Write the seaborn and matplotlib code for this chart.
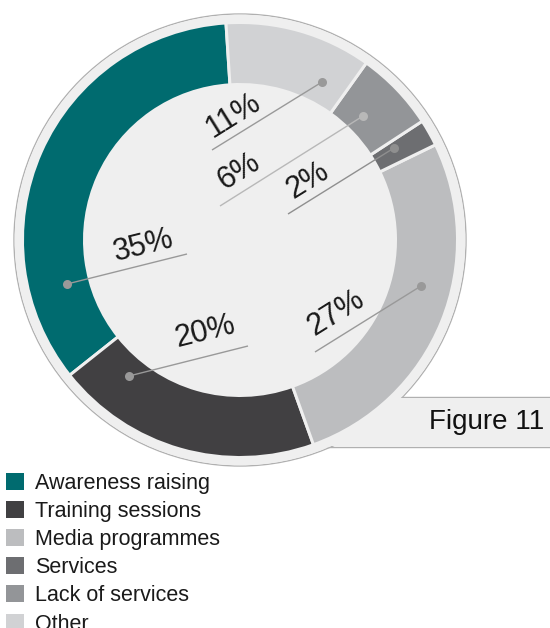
import matplotlib
matplotlib.use("Agg")
import matplotlib.pyplot as plt
from matplotlib.patches import Circle, Rectangle, Patch
import seaborn as sns

# Share of activities (percent)
categories = ["Awareness raising", "Training sessions", "Media programmes",
              "Services", "Lack of services", "Other"]
values = [35, 20, 27, 2, 6, 11]
value_labels = ["35%", "20%", "27%", "2%", "6%", "11%"]
colors = ["#006b6f", "#414042", "#bcbdbf", "#6d6e71", "#939598", "#d1d2d4"]
figure_title = "Figure 11"

sns.set_theme(style="white")
plt.rcParams["font.family"] = ["Liberation Sans", "DejaVu Sans"]

W, H = 550, 628
fig = plt.figure(figsize=(W / 100, H / 100), dpi=100)
fig.patch.set_facecolor("white")
ax = fig.add_axes([0, 0, 1, 1])

# layout in pixel units (y grows downward)
cx, cy = 240, 240
bg_r = 226
ring_outer, ring_width, gap_px = 216, 59, 3.0
bg_color = "#efefef"
outline = "#b0b0b0"

# background disc joined to the caption tab, outlined as one shape
ax.add_patch(Circle((cx, cy), bg_r, facecolor="none", edgecolor=outline, lw=1.0, zorder=1))
ax.add_patch(Rectangle((300, 397), 270, 50, facecolor="none", edgecolor=outline, lw=1.0, zorder=1))
ax.add_patch(Circle((cx, cy), bg_r - 0.6, facecolor=bg_color, edgecolor="none", zorder=1.5))
ax.add_patch(Rectangle((300, 397.6), 270, 48.8, facecolor=bg_color, edgecolor="none", zorder=1.5))

pal = sns.color_palette(colors)
wedges, _ = ax.pie(
    values, colors=pal, startangle=-93.7, counterclock=False,
    center=(cx, cy), radius=ring_outer + gap_px / 2,
    wedgeprops=dict(width=ring_width + gap_px, edgecolor=bg_color,
                    linewidth=gap_px * 72 / 100),
    frame=True,
)
for w in wedges:
    w.set_zorder(2)

# leader lines: (dot x, dot y, end x, end y), label centre and rotation
leaders = [
    (67, 284, 187, 254, 144, 246, 14),
    (129, 376, 248, 346, 205, 332, 14),
    (421, 286, 315, 352, 336, 313, 32),
    (394, 148, 288, 214, 308, 181, 32),
    (363, 116, 220, 206, 239, 171, 32),
    (322, 82, 212, 150, 233, 116, 32),
]
line_colors = ["#999999", "#999999", "#999999", "#8f8f8f", "#b8b8b8", "#999999"]
for (x0, y0, x1, y1, tx, ty, rot), lab, lc in zip(leaders, value_labels, line_colors):
    ax.plot([x0, x1], [y0, y1], color=lc, lw=1.0, zorder=3, solid_capstyle="butt")
    ax.plot([x0], [y0], "o", color=lc, ms=6.5, mec="none", zorder=3)
    ax.text(tx, ty, lab, fontsize=22, color="#1a1a1a", rotation=rot,
            rotation_mode="anchor", ha="center", va="center", zorder=4)

ax.text(544, 422, figure_title, fontsize=20, color="#111111",
        ha="right", va="center", zorder=4)

ax.set_xlim(0, W)
ax.set_ylim(H, 0)
ax.set_aspect("equal", adjustable="box")
ax.axis("off")

handles = [Patch(facecolor=c, edgecolor="none", label=l) for c, l in zip(pal, categories)]
fig.legend(handles=handles, loc="upper left", bbox_to_anchor=(6 / W, 1 - 473 / H),
           frameon=False, fontsize=15.5, borderpad=0, borderaxespad=0,
           handlelength=0.84, handleheight=0.84, handletextpad=0.5,
           labelspacing=0.33, labelcolor="#1a1a1a")

fig.savefig("out.png", dpi=100, facecolor="white")
